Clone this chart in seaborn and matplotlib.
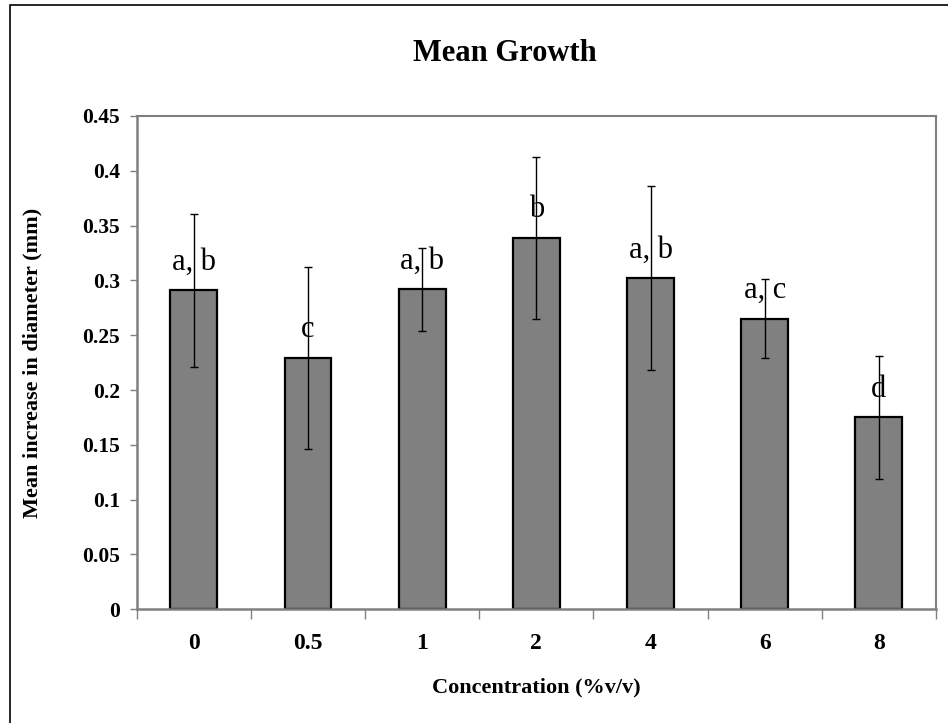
import matplotlib
matplotlib.use("Agg")
import matplotlib.pyplot as plt
from matplotlib.patches import Rectangle
from matplotlib.ticker import FixedLocator
import numpy as np
import pandas as pd
import seaborn as sns

# Mean increase in diameter by concentration
concentrations = ["0", "0.5", "1", "2", "4", "6", "8"]
mean_growth = [0.291, 0.229, 0.292, 0.339, 0.302, 0.265, 0.175]
error = [0.070, 0.083, 0.038, 0.074, 0.084, 0.036, 0.056]
groups = ["a, b", "c", "a, b", "b", "a, b", "a, c", "d"]
y_ticks = [0, 0.05, 0.1, 0.15, 0.2, 0.25, 0.3, 0.35, 0.4, 0.45]
y_tick_labels = ["0", "0.05", "0.1", "0.15", "0.2", "0.25", "0.3", "0.35", "0.4", "0.45"]

df = pd.DataFrame({"conc": concentrations, "growth": mean_growth})

sns.set_theme(style="white")
plt.rcParams["font.family"] = ["Liberation Serif", "DejaVu Serif"]
plt.rcParams["text.color"] = "black"
plt.rcParams["axes.labelcolor"] = "black"
plt.rcParams["xtick.color"] = "black"
plt.rcParams["ytick.color"] = "black"

fig = plt.figure(figsize=(9.48, 7.23), dpi=100)
ax = fig.add_axes([0.1442, 0.1573, 0.8431, 0.6823])

sns.barplot(data=df, x="conc", y="growth", color="#808080", saturation=1,
            width=0.41, edgecolor="black", linewidth=1.6, errorbar=None, ax=ax)

pos = np.arange(len(concentrations))
ax.errorbar(pos, mean_growth, yerr=error, fmt="none", ecolor="black",
            elinewidth=1.0, capsize=3, capthick=1.0, zorder=5)

for x, v, g in zip(pos, mean_growth, groups):
    ax.text(x, v + 0.019, g, ha="center", va="baseline", fontsize=22,
            color="black", zorder=6)

ax.set_ylim(0, 0.45)
ax.set_xlim(-0.5, len(concentrations) - 0.5)
ax.set_yticks(y_ticks)
ax.set_yticklabels(y_tick_labels, fontsize=15.5, fontweight="bold")
ax.tick_params(axis="y", direction="out", length=5, width=1.0, color="#808080",
               labelcolor="black", left=True, pad=7)
# category labels centred, tick marks on the boundaries between categories
ax.tick_params(axis="x", which="major", length=0, pad=17, labelcolor="black")
ax.xaxis.set_minor_locator(FixedLocator(np.arange(-0.5, len(concentrations), 1.0)))
ax.tick_params(axis="x", which="minor", bottom=True, direction="out", length=7,
               width=1.0, color="#808080")
for lab in ax.get_xticklabels():
    lab.set_fontsize(17)
    lab.set_fontweight("bold")

for s in ax.spines.values():
    s.set_visible(True)
    s.set_color("#808080")
    s.set_linewidth(1.5)
ax.spines["left"].set_linewidth(1.8)
ax.spines["bottom"].set_linewidth(1.8)

ax.set_xlabel("Concentration (%v/v)", fontsize=16, fontweight="bold", labelpad=17)
ax.set_ylabel("Mean increase in diameter (mm)", fontsize=16, fontweight="bold")
ax.yaxis.set_label_coords(-0.118, 0.5)

fig.text(0.533, 0.926, "Mean Growth", ha="center", va="center", fontsize=22,
         fontweight="bold")

# chart frame
fig.patches.append(Rectangle((10 / 948, -0.1), 1.2, 1.1 - 5 / 723, transform=fig.transFigure,
                             fill=False, edgecolor="black", linewidth=1.2))

fig.savefig("out.png", dpi=100)
